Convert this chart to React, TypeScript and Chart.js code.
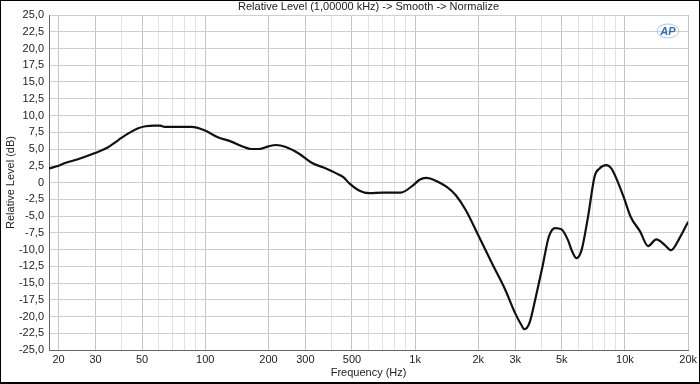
import React, { useEffect, useRef } from "react";
import { Chart, registerables } from "chart.js";

Chart.register(...registerables);

const freqs = [
  18, 20, 21.3, 24.7, 29.6, 33.7, 38.4, 42.8, 47.9, 52, 57, 61, 64, 75, 86, 99, 114, 133, 153, 165, 181,
  200, 217, 242, 280, 323, 376, 419, 455, 485, 540, 606, 702, 856, 970, 1050, 1123, 1180, 1304, 1420, 1563,
  1742, 2016, 2327, 2688, 2996, 3200, 3318, 3504, 3764, 4043, 4337, 4650, 4988, 5351, 5571, 5882, 6210,
  6670, 7166, 7565, 8163, 8610, 9240, 9920, 10640, 11800, 12890, 14100, 15450, 16600, 18200, 20000,
];
const levels = [
  2.1, 2.5, 2.87, 3.46, 4.36, 5.1, 6.3, 7.3, 8.1, 8.4, 8.5, 8.5, 8.3, 8.3, 8.3, 7.8, 6.8, 6.1, 5.3, 5.0, 5.0,
  5.4, 5.6, 5.3, 4.3, 2.9, 2.1, 1.4, 0.8, -0.1, -1.2, -1.6, -1.5, -1.5, -0.5, 0.4, 0.7, 0.6, 0.0, -0.7, -1.9,
  -4.1, -8.1, -12.1, -16.0, -19.5, -21.2, -21.9, -21.0, -17.0, -12.6, -8.1, -6.8, -7.0, -8.6, -10.1, -11.3, -10.1,
  -5.1, 0.9, 2.1, 2.6, 2.1, 0.1, -2.4, -5.1, -7.3, -9.5, -8.5, -9.3, -10.1, -8.3, -5.85,
];

const xGridValues = [
  20, 30, 40, 50, 60, 70, 80, 90, 100, 200, 300, 400, 500, 600, 700, 800, 900, 1000, 2000, 3000, 4000,
  5000, 6000, 7000, 8000, 9000, 10000, 20000,
];
const xLabelValues = [20, 30, 50, 100, 200, 300, 500, 1000, 2000, 3000, 5000, 10000, 20000];

const chartTitle = "Relative Level (1,00000 kHz) -> Smooth -> Normalize";
const xTitle = "Frequency (Hz)";
const yTitle = "Relative Level (dB)";

const FONT = "'Liberation Sans', Arial, sans-serif";

const fmtX = (v: number) => (v >= 1000 ? `${v / 1000}k` : `${v}`);
const fmtY = (v: number) => (Math.abs(v) < 1e-9 ? "0" : v.toFixed(1).replace(".", ","));

const decorPlugin = {
  id: "decor",
  afterDraw(chart: any) {
    const ctx = chart.ctx;
    const area = chart.chartArea;
    ctx.save();
    ctx.fillStyle = "#222";
    ctx.font = `11px ${FONT}`;
    ctx.textAlign = "center";
    ctx.textBaseline = "middle";
    ctx.fillText(chartTitle, (area.left + area.right) / 2, 7);
    ctx.strokeStyle = "#a9c9ec";
    ctx.lineWidth = 1;
    ctx.beginPath();
    ctx.ellipse(668, 31, 11, 7, 0, 0, Math.PI * 2);
    ctx.stroke();
    ctx.fillStyle = "#2a6cc0";
    ctx.font = `italic bold 11px ${FONT}`;
    ctx.fillText("AP", 668, 31.5);
    ctx.strokeStyle = "#000";
    ctx.lineWidth = 1;
    ctx.strokeRect(0.5, 0.5, 699, 383);
    ctx.beginPath();
    ctx.moveTo(0, 382.5);
    ctx.lineTo(700, 382.5);
    ctx.stroke();
    ctx.restore();
  },
};

export default function App() {
  const ref = useRef<HTMLCanvasElement>(null);
  useEffect(() => {
    if (!ref.current) return;
    const chart = new Chart(ref.current, {
      type: "line",
      data: {
        datasets: [
          {
            data: freqs.map((f, i) => ({ x: f, y: levels[i] })),
            borderColor: "#111",
            borderWidth: 2.2,
            pointRadius: 0,
            cubicInterpolationMode: "monotone",
            fill: false,
          },
        ],
      },
      options: {
        responsive: false,
        animation: false,
        layout: { padding: { left: 0, top: 15, right: 11, bottom: 0 } },
        plugins: { legend: { display: false }, tooltip: { enabled: false }, title: { display: false } },
        scales: {
          x: {
            type: "logarithmic",
            min: 18,
            max: 20000,
            afterBuildTicks: (scale: any) => {
              scale.ticks = xGridValues.map((v) => ({ value: v }));
            },
            afterFit: (scale: any) => {
              scale.height = 34;
            },
            ticks: {
              autoSkip: false,
              maxRotation: 0,
              padding: 3,
              color: "#222",
              font: { family: FONT, size: 11 },
              callback: (v: any) => (xLabelValues.includes(Number(v)) ? fmtX(Number(v)) : ""),
            },
            grid: {
              drawTicks: false,
              color: (c: any) =>
                c.tick && xLabelValues.includes(c.tick.value) ? "#c4c4c4" : "#e2e2e2",
              lineWidth: 1,
            },
            border: { color: "#666", width: 1 },
            title: {
              display: true,
              text: xTitle,
              color: "#222",
              font: { family: FONT, size: 11 },
              padding: { top: 0, bottom: 4 },
            },
          },
          y: {
            min: -25,
            max: 25,
            afterFit: (scale: any) => {
              scale.width = 49;
            },
            ticks: {
              stepSize: 2.5,
              padding: 5,
              color: "#222",
              font: { family: FONT, size: 11 },
              callback: (v: any) => fmtY(Number(v)),
            },
            grid: { drawTicks: false, color: "#cfcfcf", lineWidth: 1 },
            border: { color: "#666", width: 1 },
            title: {
              display: true,
              text: yTitle,
              color: "#222",
              font: { family: FONT, size: 11 },
              padding: { top: 4, bottom: 0 },
            },
          },
        },
      },
      plugins: [decorPlugin],
    } as any);
    return () => chart.destroy();
  }, []);
  return (
    <div style={{ position: "fixed", left: 0, top: 0, width: 700, height: 384, background: "#fff" }}>
      <canvas ref={ref} width={700} height={384} style={{ display: "block" }} />
    </div>
  );
}
